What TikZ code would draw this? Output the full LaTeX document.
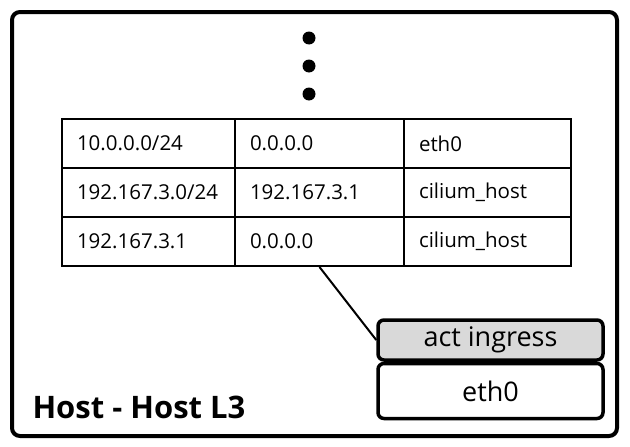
\documentclass[tikz,border=0pt]{standalone}
\usepackage{fontspec}
\setmainfont{Open Sans}
\usetikzlibrary{positioning}
\definecolor{ActFill}{HTML}{D9D9D9}

\begin{document}
\begin{tikzpicture}[x=1pt,y=-1pt,
    frame/.style={draw,line width=4pt,rounded corners=8pt,minimum width=605pt,
      minimum height=424pt},
    cell/.style={draw,line width=2pt,anchor=north west,minimum height=49pt,
      inner xsep=15pt,align=left,font=\fontsize{20.5}{24}\selectfont},
    stagebox/.style={draw,line width=3.5pt,rounded corners=6pt,minimum width=225pt,
      font=\fontsize{27}{30}\selectfont},
    dot/.style={circle,fill=black,inner sep=0pt,minimum size=13pt}]
  \useasboundingbox (0,0) rectangle (630,447);
  \node[frame] (host) at (314.5,224) {};
  \node[anchor=west,font=\fontsize{31}{34}\selectfont\bfseries] (title) at (29,407) {Host - Host L3};
  % dots above the table
  \foreach \i/\y in {1/38,2/66,3/94}
    \node[dot] (dot\i) at (309,\y) {};
  % routing table
  \foreach \r/\y/\dst/\gw/\dev in {1/118/{10.0.0.0/24}/0.0.0.0/eth0,
      2/167/{192.167.3.0/24}/192.167.3.1/cilium\_host,
      3/216/192.167.3.1/0.0.0.0/cilium\_host}{
    \node[cell,text width=143pt] (route\r-dst) at (61,\y) {\dst};
    \node[cell,text width=139pt] (route\r-gw) at (234,\y) {\gw};
    \node[cell,text width=137pt] (route\r-dev) at (403,\y) {\dev};
  }
  % attached program and device
  \node[stagebox,fill=ActFill,minimum height=40pt] (act) at (490.5,340) {act ingress};
  \node[stagebox,minimum height=55pt,below=0pt of act] (eth) {eth0};
  \draw[line width=2pt] (route3-gw.south) -- (act.west);
\end{tikzpicture}
\end{document}
